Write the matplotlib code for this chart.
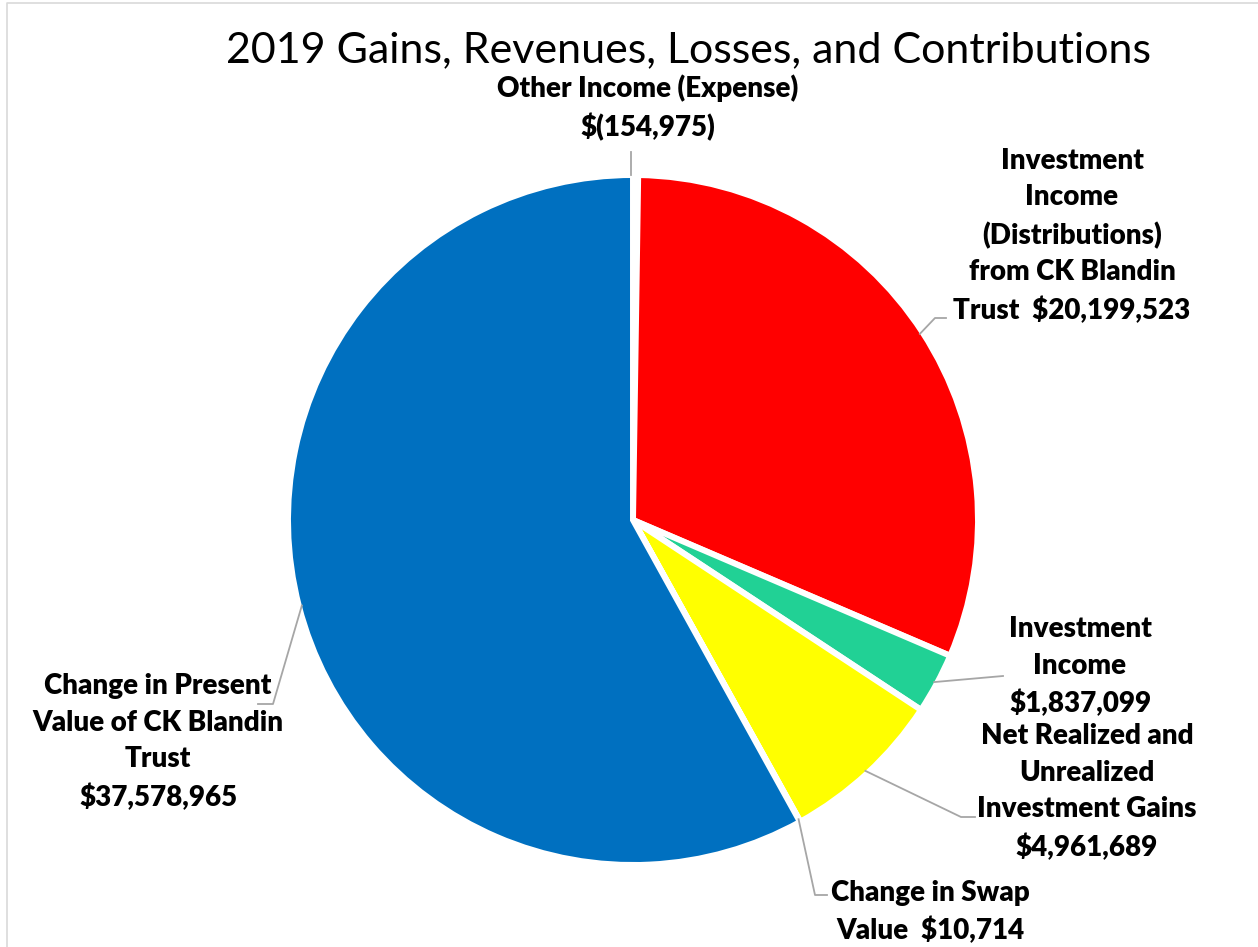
import matplotlib
matplotlib.use('Agg')
import numpy as np
import matplotlib.pyplot as plt
from matplotlib.lines import Line2D

# slice data, clockwise from 12 o'clock
categories = ['Other Income (Expense)',
              'Investment Income (Distributions) from CK Blandin Trust',
              'Investment Income',
              'Net Realized and Unrealized Investment Gains',
              'Change in Swap Value',
              'Change in Present Value of CK Blandin Trust']
values = [-154975, 20199523, 1837099, 4961689, 10714, 37578965]
colors = ['#FFFFFF', '#FF0000', '#21D195', '#FFFF00', '#FFFFFF', '#0070C0']

label_texts = ['Other Income (Expense)\n$(154,975)',
               'Investment\nIncome\n(Distributions)\nfrom CK Blandin\nTrust  $20,199,523',
               'Investment\nIncome\n$1,837,099',
               'Net Realized and\nUnrealized\nInvestment Gains\n$4,961,689',
               'Change in Swap\nValue  $10,714',
               'Change in Present\nValue of CK Blandin\nTrust\n$37,578,965']

W, H = 1258, 947
CX, CY, R = 633, 520, 342


def px(x, y):
    return x / W, 1 - y / H


fig = plt.figure(figsize=(W / 100, H / 100), dpi=100)
fig.patch.set_facecolor('white')

# pie
r_out = R + 3
ax = fig.add_axes([(CX - r_out) / W, 1 - (CY + r_out) / H, 2 * r_out / W, 2 * r_out / H])
wedges, _ = ax.pie(np.abs(values), colors=colors, startangle=90, counterclock=False,
                   radius=1, wedgeprops=dict(edgecolor='white', linewidth=4.3))
ax.set_xlim(-1, 1)
ax.set_ylim(-1, 1)
ax.axis('off')

# title
fig.text(*px(688, 50), '2019 Gains, Revenues, Losses, and Contributions',
         ha='center', va='center', fontsize=31, family='Lato')

# data labels: text centre, leader elbow and end (pixels)
label_pos = [(648, 108), (1072, 236), (1080, 667), (1087, 792), (930, 912), (158, 742)]
leader_pts = [[(631, 152)], [(935, 318), (946, 318)], [(1003, 676)],
              [(961, 817), (975, 817)], [(815, 895), (827, 895)], [(273, 704), (258, 704)]]

for i, w in enumerate(wedges):
    if i == 4:
        ang = np.deg2rad(w.theta1)
    else:
        ang = np.deg2rad((w.theta1 + w.theta2) / 2)
    sx, sy = CX + R * np.cos(ang), CY - R * np.sin(ang)
    if i == 0:
        sx, sy = 631, 175
    pts = [(sx, sy)] + leader_pts[i]
    xs = [p[0] / W for p in pts]
    ys = [1 - p[1] / H for p in pts]
    fig.add_artist(Line2D(xs, ys, color='#A6A6A6', lw=1.3))
    fig.text(*px(*label_pos[i]), label_texts[i], ha='center', va='center',
             multialignment='center', fontsize=20, fontweight='heavy', family='Lato',
             linespacing=1.5)

# chart border (top and left visible)
fig.add_artist(Line2D([7 / W, 7 / W, 1], [0, 1 - 3 / H, 1 - 3 / H], color='#D9D9D9', lw=1.2))

fig.savefig('out.png', dpi=100)
